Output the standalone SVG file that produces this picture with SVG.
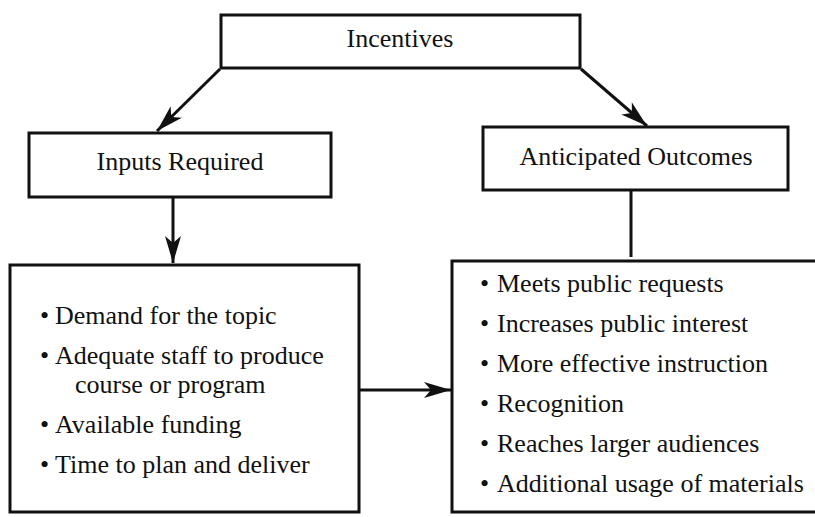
<svg xmlns="http://www.w3.org/2000/svg" width="815" height="517" viewBox="0 0 815 517">
<defs>
<style>
.box{fill:#fff;stroke:#111;stroke-width:3}
.t{font-family:'Liberation Serif',serif;font-size:26px;fill:#111}
.c{text-anchor:middle}
.b{font-size:26px}
.ln{stroke:#111;stroke-width:3;fill:none}
</style>
<marker id="ah" markerUnits="userSpaceOnUse" markerWidth="30" markerHeight="20" viewBox="-28 -10 30 20" refX="0" refY="0" orient="auto">
<path d="M0,0 L-27,-8 L-20,0 L-27,8 Z" fill="#111"/>
</marker>
</defs>
<rect width="815" height="517" fill="#fff"/>
<g id="connectors">
<line class="ln" x1="220" y1="69" x2="157" y2="131" marker-end="url(#ah)"/>
<line class="ln" x1="581" y1="69" x2="647" y2="126" marker-end="url(#ah)"/>
<line class="ln" x1="173" y1="198" x2="173" y2="263" marker-end="url(#ah)"/>
<line class="ln" x1="631" y1="191" x2="631" y2="257"/>
<line class="ln" x1="359" y1="390" x2="451" y2="390" marker-end="url(#ah)"/>
</g>
<g id="incentives">
<rect class="box" x="221" y="15" width="359" height="53"/>
<text class="t c" x="400" y="47" font-family="Liberation Serif">Incentives</text>
</g>
<g id="inputs-required">
<rect class="box" x="29" y="133" width="302" height="64"/>
<text class="t c" x="180" y="170" font-family="Liberation Serif">Inputs Required</text>
</g>
<g id="anticipated-outcomes">
<rect class="box" x="483" y="127" width="305" height="63"/>
<text class="t c" x="636" y="165" font-family="Liberation Serif">Anticipated Outcomes</text>
</g>
<g id="inputs-list" font-family="Liberation Serif">
<rect class="box" x="10" y="265" width="349" height="247"/>
<text class="t"><tspan class="b" x="40" y="324">•</tspan><tspan x="55" y="324">Demand for the topic</tspan></text>
<text class="t"><tspan class="b" x="40" y="364">•</tspan><tspan x="55" y="364">Adequate staff to produce</tspan></text>
<text class="t" x="75" y="393">course or program</text>
<text class="t"><tspan class="b" x="40" y="433">•</tspan><tspan x="55" y="433">Available funding</tspan></text>
<text class="t"><tspan class="b" x="40" y="473">•</tspan><tspan x="55" y="473">Time to plan and deliver</tspan></text>
</g>
<g id="outcomes-list" font-family="Liberation Serif">
<rect class="box" x="452" y="261" width="370" height="251"/>
<text class="t"><tspan class="b" x="480" y="292">•</tspan><tspan x="497" y="292">Meets public requests</tspan></text>
<text class="t"><tspan class="b" x="480" y="332">•</tspan><tspan x="497" y="332">Increases public interest</tspan></text>
<text class="t"><tspan class="b" x="480" y="372">•</tspan><tspan x="497" y="372">More effective instruction</tspan></text>
<text class="t"><tspan class="b" x="480" y="412">•</tspan><tspan x="497" y="412">Recognition</tspan></text>
<text class="t"><tspan class="b" x="480" y="452">•</tspan><tspan x="497" y="452">Reaches larger audiences</tspan></text>
<text class="t"><tspan class="b" x="480" y="492">•</tspan><tspan x="497" y="492">Additional usage of materials</tspan></text>
</g>
</svg>
